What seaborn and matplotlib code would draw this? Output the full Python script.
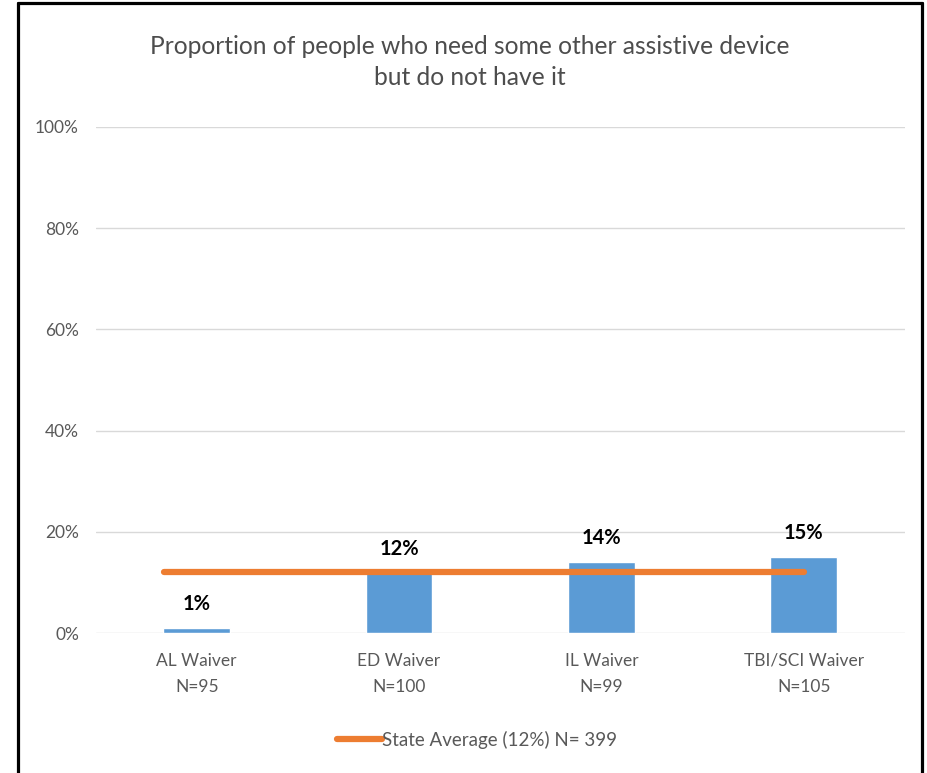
import matplotlib
matplotlib.use("Agg")
import matplotlib.pyplot as plt
import seaborn as sns
import pandas as pd
from matplotlib.lines import Line2D

categories = ["AL Waiver", "ED Waiver", "IL Waiver", "TBI/SCI Waiver"]
sample_sizes = ["N=95", "N=100", "N=99", "N=105"]
values = [1, 12, 14, 15]
state_average = 12
state_n = 399

sns.set_theme(style="white")
plt.rcParams["font.family"] = ["Lato", "DejaVu Sans"]

df = pd.DataFrame({
    "label": [f"{c}\n{n}" for c, n in zip(categories, sample_sizes)],
    "value": values,
})

fig = plt.figure(figsize=(9.28, 7.73), dpi=100)
ax = fig.add_axes([0.103, 0.181, 0.872, 0.655])

sns.barplot(data=df, x="label", y="value", color="#5B9BD5", width=0.33,
            saturation=1, ax=ax, zorder=2)

ax.set_ylim(0, 100)
ax.set_xlim(-0.5, 3.5)
ax.set_yticks(range(0, 101, 20))
ax.set_yticklabels([f"{t}%" for t in range(0, 101, 20)])
ax.yaxis.grid(True, color="#D9D9D9", linewidth=1, zorder=0)
ax.set_axisbelow(True)
for s in ax.spines.values():
    s.set_visible(False)
ax.tick_params(axis="x", length=0, labelsize=12.5, colors="#595959", pad=14)
ax.tick_params(axis="y", length=0, labelsize=12.5, colors="#595959", pad=12)
ax.set_xlabel("")
ax.set_ylabel("")
for lbl in ax.get_xticklabels():
    lbl.set_linespacing(1.8)

for i, v in enumerate(values):
    ax.text(i, v + 4.7, f"{v}%", ha="center", va="center", fontsize=14.5,
            fontweight="bold", color="#000000")

ax.plot([-0.16, 3.0], [state_average, state_average], color="#ED7D31",
        linewidth=4.5, solid_capstyle="round", zorder=3)

handle = Line2D([0], [0], color="#ED7D31", linewidth=4.5)
fig.legend([handle], [f"State Average ({state_average}%) N= {state_n}"],
           loc="center", bbox_to_anchor=(0.514, 0.043), frameon=False,
           fontsize=13.5, handlelength=2.4, handletextpad=0.0,
           labelcolor="#595959")

fig.text(0.506, 0.920, "Proportion of people who need some other assistive device\nbut do not have it",
         ha="center", va="center", fontsize=17.7, color="#4D4D4D", linespacing=1.45)

# outer frame: left, top and right edges
frame_kw = dict(color="black", linewidth=2.3, transform=fig.transFigure)
fig.add_artist(Line2D([0.0195, 0.0195], [0.0, 0.9955], **frame_kw))
fig.add_artist(Line2D([0.9935, 0.9935], [0.0, 0.9955], **frame_kw))
fig.add_artist(Line2D([0.0195, 0.9935], [0.9955, 0.9955], **frame_kw))

fig.savefig("out.png", dpi=100)
